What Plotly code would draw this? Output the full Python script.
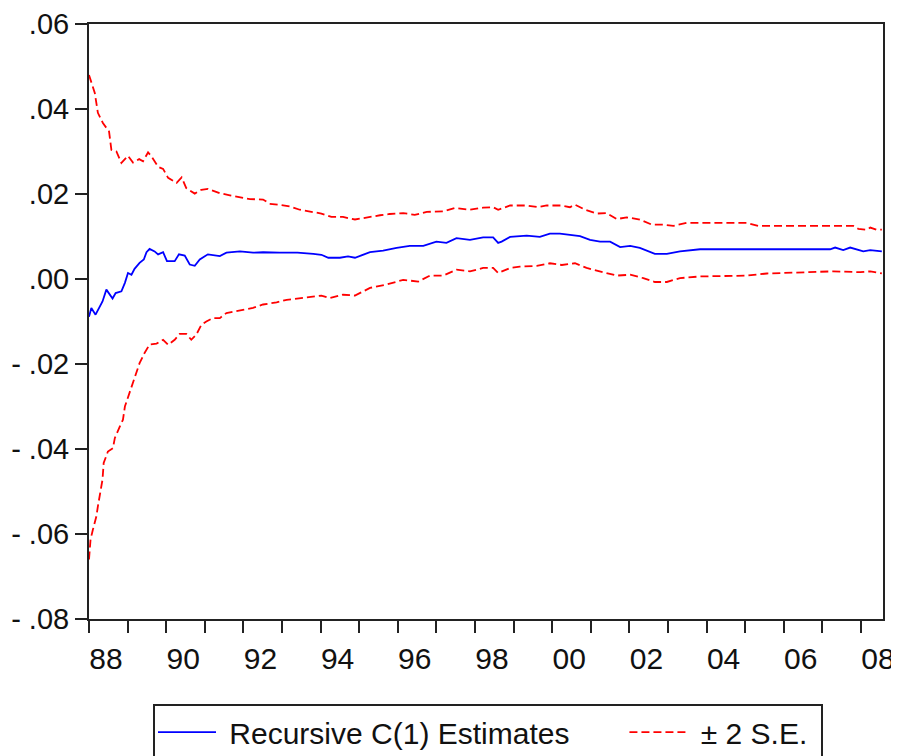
import plotly.graph_objects as go

# Recursive C(1) estimate (decimal year, value)
est_years = [1988.00, 1988.06, 1988.17, 1988.28, 1988.35, 1988.45, 1988.61, 1988.69, 1988.84, 1988.93,
             1989.01, 1989.10, 1989.18, 1989.31, 1989.42, 1989.49, 1989.57, 1989.70, 1989.79, 1989.92,
             1990.02, 1990.22, 1990.33, 1990.48, 1990.61, 1990.74, 1990.87, 1991.08, 1991.39, 1991.56,
             1991.91, 1992.25, 1992.51, 1992.94, 1993.40, 1993.81, 1994.02, 1994.20, 1994.50, 1994.71,
             1994.89, 1995.28, 1995.62, 1995.97, 1996.31, 1996.66, 1997.00, 1997.26, 1997.52, 1997.87,
             1998.21, 1998.47, 1998.60, 1998.69, 1998.91, 1999.34, 1999.68, 1999.94, 2000.20, 2000.72,
             2000.98, 2001.24, 2001.50, 2001.76, 2002.02, 2002.27, 2002.66, 2002.97, 2003.31, 2003.83,
             2005.56, 2007.20, 2007.33, 2007.54, 2007.72, 2008.06, 2008.24, 2008.54]
est_values = [-0.0089, -0.0068, -0.0084, -0.0063, -0.0053, -0.0025, -0.0046, -0.0033, -0.0029, -0.0009,
              0.0014, 0.0010, 0.0024, 0.0038, 0.0046, 0.0063, 0.0071, 0.0065, 0.0058, 0.0063,
              0.0042, 0.0042, 0.0058, 0.0055, 0.0034, 0.0031, 0.0046, 0.0058, 0.0054, 0.0062,
              0.0065, 0.0062, 0.0063, 0.0062, 0.0062, 0.0059, 0.0057, 0.0050, 0.0050, 0.0053,
              0.0050, 0.0063, 0.0067, 0.0073, 0.0078, 0.0078, 0.0088, 0.0085, 0.0096, 0.0092,
              0.0098, 0.0098, 0.0085, 0.0088, 0.0099, 0.0102, 0.0099, 0.0107, 0.0107, 0.0101,
              0.0092, 0.0088, 0.0088, 0.0075, 0.0078, 0.0073, 0.0059, 0.0059, 0.0065, 0.0070,
              0.0070, 0.0070, 0.0074, 0.0068, 0.0074, 0.0065, 0.0068, 0.0065]

# Upper band (+2 S.E.)
up_years = [1988.00, 1988.15, 1988.23, 1988.36, 1988.52, 1988.58, 1988.71, 1988.84, 1989.01, 1989.14,
            1989.30, 1989.40, 1989.53, 1989.62, 1989.79, 1989.92, 1990.05, 1990.27, 1990.40, 1990.52,
            1990.74, 1990.91, 1991.08, 1991.39, 1991.65, 1991.86, 1992.17, 1992.51, 1992.68, 1992.90,
            1993.20, 1993.46, 1993.72, 1994.02, 1994.28, 1994.58, 1994.89, 1995.23, 1995.54, 1995.79,
            1996.14, 1996.44, 1996.75, 1997.18, 1997.48, 1997.87, 1998.21, 1998.47, 1998.60, 1998.91,
            1999.34, 1999.64, 1999.86, 2000.25, 2000.46, 2000.59, 2000.85, 2001.15, 2001.41, 2001.67,
            2001.93, 2002.27, 2002.58, 2002.88, 2003.14, 2003.48, 2004.17, 2005.04, 2005.34, 2005.73,
            2006.42, 2007.28, 2007.80, 2007.93, 2008.15, 2008.24, 2008.41, 2008.54]
up_values = [0.0480, 0.0438, 0.0391, 0.0367, 0.0347, 0.0304, 0.0300, 0.0273, 0.0290, 0.0274,
             0.0282, 0.0277, 0.0298, 0.0288, 0.0264, 0.0259, 0.0238, 0.0226, 0.0239, 0.0214,
             0.0201, 0.0210, 0.0212, 0.0202, 0.0197, 0.0194, 0.0188, 0.0187, 0.0177, 0.0175,
             0.0171, 0.0163, 0.0159, 0.0154, 0.0146, 0.0146, 0.0140, 0.0146, 0.0150, 0.0153,
             0.0155, 0.0151, 0.0158, 0.0159, 0.0167, 0.0163, 0.0168, 0.0169, 0.0163, 0.0173,
             0.0173, 0.0169, 0.0173, 0.0173, 0.0169, 0.0175, 0.0163, 0.0154, 0.0155, 0.0141,
             0.0145, 0.0140, 0.0128, 0.0128, 0.0125, 0.0132, 0.0132, 0.0132, 0.0125, 0.0125,
             0.0125, 0.0125, 0.0125, 0.0118, 0.0116, 0.0121, 0.0116, 0.0116]

# Lower band (-2 S.E.)
lo_years = [1988.00, 1988.04, 1988.10, 1988.19, 1988.23, 1988.28, 1988.35, 1988.38, 1988.49, 1988.62,
            1988.67, 1988.80, 1988.88, 1988.93, 1988.99, 1989.18, 1989.31, 1989.44, 1989.57, 1989.75,
            1989.92, 1990.05, 1990.22, 1990.35, 1990.52, 1990.65, 1990.78, 1990.91, 1991.04, 1991.21,
            1991.39, 1991.56, 1991.78, 1991.99, 1992.25, 1992.51, 1992.86, 1993.12, 1993.46, 1993.81,
            1994.02, 1994.24, 1994.58, 1994.89, 1995.28, 1995.71, 1996.14, 1996.53, 1996.83, 1997.18,
            1997.52, 1997.87, 1998.21, 1998.47, 1998.60, 1998.91, 1999.16, 1999.60, 1999.94, 2000.25,
            2000.59, 2000.89, 2001.24, 2001.67, 2002.02, 2002.36, 2002.66, 2002.97, 2003.31, 2003.83,
            2005.04, 2005.56, 2007.28, 2007.98, 2008.24, 2008.54]
lo_values = [-0.0660, -0.0613, -0.0590, -0.0559, -0.0535, -0.0504, -0.0472, -0.0433, -0.0406, -0.0398,
             -0.0374, -0.0347, -0.0331, -0.0300, -0.0284, -0.0229, -0.0198, -0.0174, -0.0154, -0.0152,
             -0.0143, -0.0155, -0.0143, -0.0129, -0.0129, -0.0143, -0.0131, -0.0108, -0.0100, -0.0092,
             -0.0092, -0.0080, -0.0076, -0.0072, -0.0068, -0.0060, -0.0055, -0.0049, -0.0045, -0.0041,
             -0.0039, -0.0045, -0.0037, -0.0039, -0.0021, -0.0013, -0.0002, -0.0006, 0.0008, 0.0008,
             0.0022, 0.0018, 0.0026, 0.0026, 0.0014, 0.0026, 0.0029, 0.0031, 0.0037, 0.0033,
             0.0037, 0.0026, 0.0018, 0.0008, 0.0010, 0.0002, -0.0007, -0.0007, 0.0002, 0.0006,
             0.0008, 0.0013, 0.0018, 0.0016, 0.0018, 0.0013]

x_tick_vals = list(range(1988, 2009))
x_tick_text = [("%02d" % (y % 100)) if y % 2 == 0 else "" for y in x_tick_vals]
y_tick_vals = [-0.08, -0.06, -0.04, -0.02, 0.00, 0.02, 0.04, 0.06]
y_tick_text = ["- .08", "- .06", "- .04", "- .02", ".00", ".02", ".04", ".06"]

NB = "\u00a0"
FONT = "Liberation Sans, Arial, sans-serif"

fig = go.Figure()
fig.add_trace(go.Scatter(x=est_years, y=est_values, mode="lines",
                         name=NB + "Recursive C(1) Estimates" + NB * 6,
                         line=dict(color="#0000FF", width=1.8)))
fig.add_trace(go.Scatter(x=up_years, y=up_values, mode="lines",
                         name=NB + "± 2 S.E." + NB, legendgroup="se",
                         line=dict(color="#FF0000", width=1.8, dash="8px,4px")))
fig.add_trace(go.Scatter(x=lo_years, y=lo_values, mode="lines",
                         name="± 2 S.E.", legendgroup="se", showlegend=False,
                         line=dict(color="#FF0000", width=1.8, dash="8px,4px")))

fig.update_layout(
    width=899, height=756,
    margin=dict(l=81, r=24, t=16, b=145, autoexpand=False),
    paper_bgcolor="white", plot_bgcolor="white",
    font=dict(family=FONT, size=29, color="#111"),
    showlegend=True,
    legend=dict(orientation="h", x=0.0806, xanchor="left", y=-0.1429, yanchor="top",
                bordercolor="#222", borderwidth=2, bgcolor="white",
                font=dict(size=30), itemwidth=58, tracegroupgap=0),
)
fig.update_xaxes(range=[1988, 2008.57], tickmode="array", tickvals=x_tick_vals, ticktext=x_tick_text,
                 ticks="outside", ticklen=12, tickwidth=2, tickcolor="#222",
                 showline=True, linecolor="#222", linewidth=2, mirror=True,
                 showgrid=False, zeroline=False, tickfont=dict(size=30), ticklabelshift=17)
fig.update_yaxes(range=[-0.08, 0.06], tickmode="array", tickvals=y_tick_vals, ticktext=y_tick_text,
                 ticks="outside", ticklen=12, tickwidth=2, tickcolor="#222",
                 showline=True, linecolor="#222", linewidth=2, mirror=True,
                 showgrid=False, zeroline=False, tickfont=dict(size=29))

fig.write_html("out.html")
